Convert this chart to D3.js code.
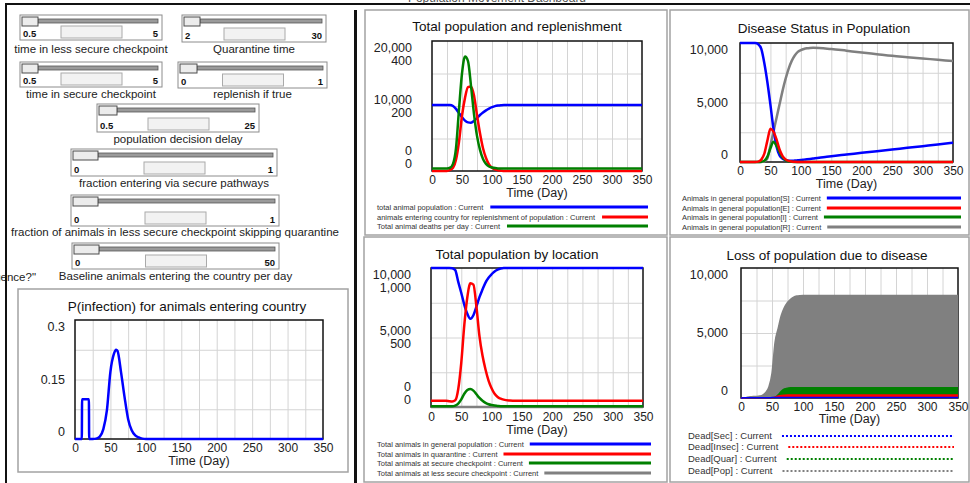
<!DOCTYPE html>
<html>
<head>
<meta charset="utf-8">
<script src="https://cdn.jsdelivr.net/npm/d3@7"></script>
<style>
html, body { margin: 0; padding: 0; background: #fff; overflow: hidden; }
svg { display: block; font-family: "Liberation Sans", Arial, sans-serif; }
</style>
</head>
<body>
<div id="dash"></div>
<script>
const width = 970;
const height = 483;

// ---- data ----
// simulation days shared by the four population charts
const days = [0,5,10,15,20,25,30,35,40,45,50,55,60,65,70,75,80,85,90,95,100,105,110,115,120,130,140,150,175,200,225,250,275,300,325,350];

// Total population and replenishment
const totalPopulation = [10150,10150,10150,10150,10150,10150,10150,10000,9550,8900,8280,7750,7480,7440,7700,8150,8620,9000,9330,9600,9820,9980,10070,10120,10150,10150,10150,10150,10150,10150,10150,10150,10150,10150,10150,10150];
const replenishment = [0,0,0,0,0,0,3,10,35,90,170,225,258,260,232,172,116,70,40,20,10,5,2,1,0,0,0,0,0,0,0,0,0,0,0,0];
const deathsPerDay = [8,8,8,8,8,8,10,22,70,190,300,352,338,262,175,108,65,37,22,14,11,9,8,8,8,8,8,8,8,8,8,8,8,8,8,8];

// Disease status in population
const susceptible = [10000,10000,10000,10000,10000,10000,9900,9500,8300,6700,4800,2800,1300,550,280,160,110,100,120,145,170,200,230,260,290,350,420,490,630,770,910,1050,1190,1330,1470,1620];
const exposed = [0,0,0,0,0,0,30,200,700,1800,2800,2550,1900,1050,500,220,90,35,12,4,0,0,0,0,0,0,0,0,0,0,0,0,0,0,0,0];
const infected = [0,0,0,0,0,0,0,20,100,450,1150,1700,1350,850,380,150,50,15,5,0,0,0,0,0,0,0,0,0,0,0,0,0,0,0,0,0];
const recovered = [0,0,0,0,0,0,0,0,50,300,1400,2550,3700,4850,6000,7000,7850,8500,8950,9250,9400,9500,9560,9590,9600,9580,9540,9500,9350,9200,9060,8920,8810,8700,8590,8480];

// Total population by location
const generalPop = [10000,10000,10000,10000,10000,10000,10000,9980,9850,9000,8200,7350,6700,6350,6600,7220,7900,8450,8950,9300,9550,9750,9880,9960,10000,10000,10000,10000,10000,10000,10000,10000,10000,10000,10000,10000];
const quarantine = [45,45,45,45,45,45,42,40,48,130,320,590,790,890,880,722,510,370,270,190,135,95,72,60,53,47,45,45,45,45,45,45,45,45,45,45];
const secureCheckpoint = [5,5,5,5,5,5,5,5,10,25,55,95,122,130,118,92,65,45,30,20,14,10,8,6,5,5,5,5,5,5,5,5,5,5,5,5];
const lessSecureCheckpoint = [0,0,0,0,0,0,0,0,0,0,0,0,0,0,0,0,0,0,0,0,0,0,0,0,0,0,0,0,0,0,0,0,0,0,0,0];

// Loss of population due to disease
const deadSec = [0,10,20,20,20,20,20,20,20,25,30,35,40,40,40,40,40,40,40,40,40,40,40,40,40,40,40,40,40,40,40,40,40,40,40,40];
const deadInsec = [0,0,20,20,20,20,20,20,20,20,20,60,150,200,220,230,230,230,230,230,230,230,230,230,230,230,230,230,230,230,230,230,230,230,230,230];
const deadQuar = [0,0,0,0,0,0,0,0,0,0,0,40,250,520,690,760,785,790,790,790,790,790,790,790,790,790,790,790,790,790,790,790,790,790,790,790];
const deadPop = [0,0,50,90,110,120,150,220,420,850,1900,4300,5360,6350,6950,7350,7600,7760,7840,7870,7880,7880,7880,7880,7880,7880,7880,7880,7880,7880,7880,7880,7880,7880,7880,7880];

// P(infection) for animals entering country
const pDays = [0,9.6,10,19.6,20,25,30,35,40,45,50,55,58,60,65,70,75,80,85,90,95,100,150,200,250,300,350];
const pInfection = [0,0,0.1,0.1,0,0,0.001,0.006,0.025,0.072,0.17,0.215,0.225,0.222,0.168,0.105,0.05,0.022,0.009,0.004,0.001,0,0,0,0,0,0];

// axis tick values
const ticks20k = [0,10000,20000];
const ticks400 = [0,200,400];
const ticks10k = [0,5000,10000];
const ticks1k = [0,500,1000];
const ticksP = [0,0.15,0.3];

// sliders
const sliderLabels = ["time in less secure checkpoint","Quarantine time","time in secure checkpoint","replenish if true","population decision delay","fraction entering via secure pathways","fraction of animals in less secure checkpoint skipping quarantine","Baseline animals entering the country per day"];
const sliderMin = ["0.5","2","0.5","0","0.5","0","0","0"];
const sliderMax = ["5","30","5","1","25","1","1","50"];

// ---- layout ----
const sliderBoxes = [[20,15,162,40],[182,15,326,42],[20,62,162,87],[178,62,327,88],[97,104,259,132],[71,149,277,176],[71,195,279,226],[72,243,279,269]];
const thumbW = [16,16,16,17,18,25,25,25];
const labelY = [53,53,98,98,143,187,236,280];

const BLUE = "#0000ff", RED = "#ff0000", GREEN = "#008000", GRAY = "#808080";
const fmt = d3.format(",");

const svg = d3.select("#dash").append("svg")
    .attr("width", width)
    .attr("height", height);

// sliders
sliderBoxes.forEach((b, i) => {
    const [x0, y0, x1, y1] = b;
    const g = svg.append("g");
    g.append("rect").attr("x", x0).attr("y", y0).attr("width", x1 - x0).attr("height", y1 - y0)
        .attr("fill", "#fff").attr("stroke", "#8c8c8c");
    g.append("rect").attr("x", x0 + 2 + thumbW[i]).attr("y", y0 + 4).attr("width", x1 - 4 - (x0 + 2 + thumbW[i])).attr("height", 4)
        .attr("fill", "#9a9a9a").attr("stroke", "#555").attr("stroke-width", 0.8);
    g.append("rect").attr("x", x0 + 2).attr("y", y0 + 2).attr("width", thumbW[i]).attr("height", 9)
        .attr("fill", "#ececec").attr("stroke", "#4d4d4d");
    g.append("rect").attr("x", (x0 + x1) / 2 - 30).attr("y", y1 - 14).attr("width", 61).attr("height", 12)
        .attr("fill", "#f2f2f2").attr("stroke", "#aaa");
    g.append("text").attr("x", x0 + 3).attr("y", y1 - 3).attr("font-size", 9.5).attr("font-weight", "bold")
        .attr("fill", "#111").text(sliderMin[i]);
    g.append("text").attr("x", x1 - 4).attr("y", y1 - 3).attr("font-size", 9.5).attr("font-weight", "bold")
        .attr("text-anchor", "end").attr("fill", "#111").text(sliderMax[i]);
    g.append("text").attr("x", (x0 + x1) / 2).attr("y", labelY[i]).attr("font-size", 11.5)
        .attr("text-anchor", "middle").attr("fill", "#222").text(sliderLabels[i]);
});

svg.append("text").attr("x", 36).attr("y", 281).attr("font-size", 11.5).attr("text-anchor", "end")
    .attr("fill", "#222").text('gence?"');

function drawChart(c) {
    const p = c.plot;
    svg.append("rect")
        .attr("x", c.box[0]).attr("y", c.box[1])
        .attr("width", c.box[2] - c.box[0]).attr("height", c.box[3] - c.box[1])
        .attr("fill", "#fff").attr("stroke", "#a3a3a3").attr("stroke-width", 1.5);

    const x = d3.scaleLinear().domain([0, 350]).range([p.x0, p.x1]);
    const frac = d3.scaleLinear().domain([0, 1]).range([p.y1, p.y0]);

    // grid
    svg.append("g")
        .attr("transform", `translate(0,${p.y1})`)
        .call(d3.axisBottom(x).tickValues(d3.range(25, 350, 25)).tickSize(-(p.y1 - p.y0)).tickFormat(""))
        .call(g => g.select(".domain").remove())
        .call(g => g.selectAll("line").attr("stroke", "#d4d4d4"));
    svg.append("g")
        .attr("transform", `translate(${p.x0},0)`)
        .call(d3.axisLeft(frac).tickValues([0.25, 0.5, 0.75]).tickSize(-(p.x1 - p.x0)).tickFormat(""))
        .call(g => g.select(".domain").remove())
        .call(g => g.selectAll("line").attr("stroke", "#d4d4d4"));

    svg.append("rect").attr("x", p.x0).attr("y", p.y0)
        .attr("width", p.x1 - p.x0).attr("height", p.y1 - p.y0)
        .attr("fill", "none").attr("stroke", "#111").attr("stroke-width", 1.5);

    svg.append("text").attr("x", c.title[1]).attr("y", c.title[2]).attr("dy", "0.35em")
        .attr("text-anchor", "middle").attr("font-size", 13.5).attr("fill", "#111").text(c.title[0]);

    // x tick labels
    svg.append("g")
        .attr("transform", `translate(0,${c.tickY})`)
        .call(d3.axisBottom(x).tickValues(d3.range(0, 351, 50)).tickSize(0).tickPadding(0))
        .call(g => g.select(".domain").remove())
        .call(g => g.selectAll("text").attr("y", 0).attr("dy", "0.35em")
            .attr("font-size", 12).attr("font-family", '"Liberation Sans", Arial, sans-serif').attr("fill", "#222"));
    svg.append("text").attr("x", (p.x0 + p.x1) / 2).attr("y", c.axisTitleY).attr("dy", "0.35em")
        .attr("text-anchor", "middle").attr("font-size", 12.5).attr("fill", "#222").text("Time (Day)");

    // y labels, one stack per scale
    const n = c.yTicks.length;
    c.yTicks.forEach((ticks, j) => {
        ticks.forEach((v, i) => {
            let y;
            if (i === 0) y = p.y1 - 7 - 13 * (n - 1 - j);
            else if (i === ticks.length - 1) y = p.y0 + 7 + 13 * j;
            else y = (p.y0 + p.y1) / 2 - 6.5 * (n - 1) + 13 * j;
            svg.append("text").attr("x", p.x0 - c.yGap).attr("y", y).attr("dy", "0.35em")
                .attr("text-anchor", "end").attr("font-size", 12.5).attr("fill", "#222").text(fmt(v));
        });
    });

    // series
    const order = c.order || c.series.map((s, i) => i);
    order.forEach(k => {
        const s = c.series[k];
        const y = d3.scaleLinear().domain([0, s.max]).range([p.y1, p.y0]);
        const pts = s.values.map((v, i) => [s.days[i], v]);
        if (s.area) {
            const area = d3.area().x(d => x(d[0])).y0(p.y1).y1(d => y(d[1])).curve(d3.curveMonotoneX);
            svg.append("path").datum(pts).attr("d", area).attr("fill", s.color);
        }
        const line = d3.line().x(d => x(d[0])).y(d => y(d[1])).curve(d3.curveMonotoneX);
        svg.append("path").datum(pts).attr("d", line)
            .attr("fill", "none").attr("stroke", s.color).attr("stroke-width", s.area ? 1.5 : 2.5)
            .attr("stroke-linejoin", "round");
    });

    // legend
    if (c.legend) {
        const L = c.legend;
        c.series.forEach((s, i) => {
            const t = svg.append("text").attr("x", L.x).attr("y", L.y[i]).attr("dy", "0.35em")
                .attr("font-size", L.size).attr("fill", "#333").text(s.label);
            const len = t.node().getComputedTextLength();
            svg.append("line").attr("x1", L.x + len + L.gap).attr("x2", L.end)
                .attr("y1", L.y[i]).attr("y2", L.y[i])
                .attr("stroke", s.color).attr("stroke-width", L.lw)
                .attr("stroke-dasharray", L.dash || null);
        });
    }
}

drawChart({
    box: [365, 10, 667, 235],
    plot: { x0: 432, x1: 642, y0: 41, y1: 171 },
    title: ["Total population and replenishment", 517, 26],
    tickY: 180, axisTitleY: 193, yGap: 20,
    yTicks: [ticks20k, ticks400],
    series: [
        { days: days, values: totalPopulation, max: 20000, color: BLUE, label: "total animal population : Current" },
        { days: days, values: replenishment, max: 400, color: RED, label: "animals entering country for replenishment of population : Current" },
        { days: days, values: deathsPerDay, max: 400, color: GREEN, label: "Total animal deaths per day : Current" }
    ],
    legend: { x: 377, y: [207, 217, 226], end: 648, size: 7.5, gap: 7, lw: 3 }
});

drawChart({
    box: [670, 10, 969, 235],
    plot: { x0: 740, x1: 953, y0: 43, y1: 162 },
    title: ["Disease Status in Population", 824, 28],
    tickY: 171, axisTitleY: 184, yGap: 12,
    yTicks: [ticks10k],
    series: [
        { days: days, values: susceptible, max: 10000, color: BLUE, label: "Animals in general population[S] : Current" },
        { days: days, values: exposed, max: 10000, color: RED, label: "Animals in general population[E] : Current" },
        { days: days, values: infected, max: 10000, color: GREEN, label: "Animals in general population[I] : Current" },
        { days: days, values: recovered, max: 10000, color: GRAY, label: "Animals in general population[R] : Current" }
    ],
    order: [3, 0, 2, 1],
    legend: { x: 682, y: [198, 208, 217, 227], end: 961, size: 7.5, gap: 6, lw: 3 }
});

drawChart({
    box: [364, 237, 667, 482],
    plot: { x0: 431, x1: 643, y0: 268, y1: 407 },
    title: ["Total population by location", 517, 254],
    tickY: 417, axisTitleY: 430, yGap: 20,
    yTicks: [ticks10k, ticks1k],
    series: [
        { days: days, values: generalPop, max: 10000, color: BLUE, label: "Total animals in general population : Current" },
        { days: days, values: quarantine, max: 1000, color: RED, label: "Total animals in quarantine : Current" },
        { days: days, values: secureCheckpoint, max: 1000, color: GREEN, label: "Total animals at secure checkpoint : Current" },
        { days: days, values: lessSecureCheckpoint, max: 1000, color: GRAY, label: "Total animals at less secure checkpoint : Current" }
    ],
    order: [3, 0, 1, 2],
    legend: { x: 377, y: [444, 454, 463, 473], end: 651, size: 7.5, gap: 6, lw: 3 }
});

drawChart({
    box: [670, 237, 969, 482],
    plot: { x0: 741, x1: 958, y0: 268, y1: 398 },
    title: ["Loss of population due to disease", 827, 255],
    tickY: 407, axisTitleY: 419, yGap: 13,
    yTicks: [ticks10k],
    series: [
        { days: days, values: deadSec, max: 10000, color: BLUE, area: true, label: "Dead[Sec] : Current" },
        { days: days, values: deadInsec, max: 10000, color: RED, area: true, label: "Dead[Insec] : Current" },
        { days: days, values: deadQuar, max: 10000, color: GREEN, area: true, label: "Dead[Quar] : Current" },
        { days: days, values: deadPop, max: 10000, color: GRAY, area: true, label: "Dead[Pop] : Current" }
    ],
    order: [3, 2, 1, 0],
    legend: { x: 688, y: [436, 447, 459, 471], end: 954, size: 9.5, gap: 10, lw: 2, dash: "2,2" }
});

drawChart({
    box: [18, 289, 348, 472],
    plot: { x0: 75, x1: 323, y0: 320, y1: 439 },
    title: ["P(infection) for animals entering country", 187, 306],
    tickY: 448, axisTitleY: 461, yGap: 10,
    yTicks: [ticksP],
    series: [
        { days: pDays, values: pInfection, max: 0.3, color: BLUE }
    ]
});

// dashboard frame
svg.append("text").attr("x", 497).attr("y", 2).attr("font-size", 12).attr("text-anchor", "middle")
    .attr("fill", "#555").text("Population Movement Dashboard");
svg.append("line").attr("x1", 5).attr("x2", 970).attr("y1", 4).attr("y2", 4)
    .attr("stroke", "#111").attr("stroke-width", 2);
svg.append("line").attr("x1", 6).attr("x2", 6).attr("y1", 4).attr("y2", 483)
    .attr("stroke", "#111").attr("stroke-width", 2);
svg.append("line").attr("x1", 355.5).attr("x2", 355.5).attr("y1", 10).attr("y2", 483)
    .attr("stroke", "#111").attr("stroke-width", 3);
</script>
</body>
</html>
